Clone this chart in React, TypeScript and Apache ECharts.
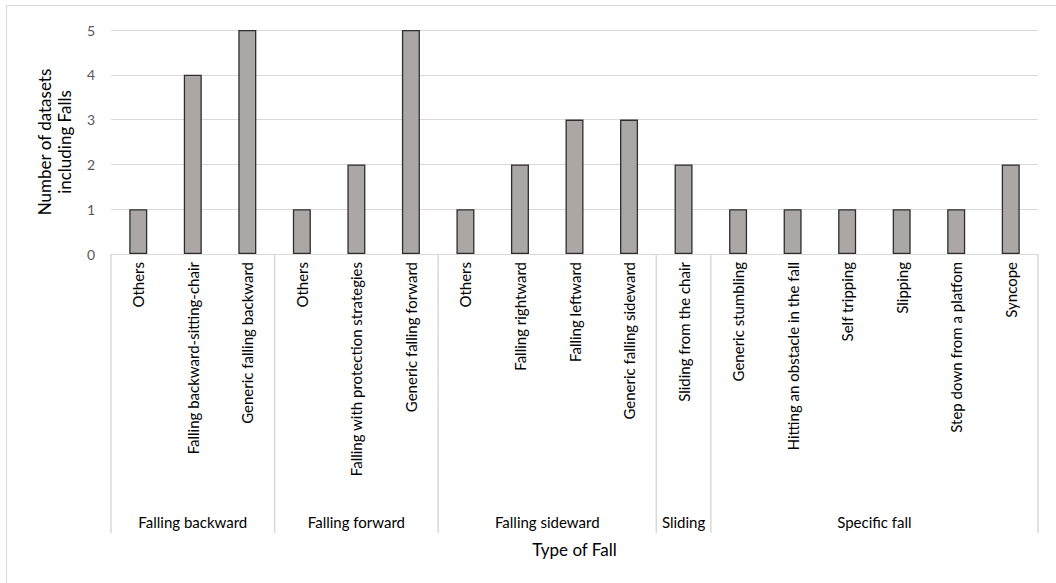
import React, { useEffect, useRef } from "react";
import * as echarts from "echarts";

const categories = [
  "Others", "Falling backward-sitting-chair", "Generic falling backward",
  "Others", "Falling with protection strategies", "Generic falling forward",
  "Others", "Falling rightward", "Falling leftward", "Generic falling sideward",
  "Sliding from the chair",
  "Generic stumbling", "Hitting an obstacle in the fall", "Self tripping", "Slipping", "Step down from a platfom", "Syncope",
];
const values = [1, 4, 5, 1, 2, 5, 1, 2, 3, 3, 2, 1, 1, 1, 1, 1, 2];
const groups = ["Falling backward", "Falling forward", "Falling sideward", "Sliding", "Specific fall"];
const groupSizes = [3, 3, 4, 1, 6];
const yTicks = [0, 1, 2, 3, 4, 5];

const FONT = "Lato";

export default function App() {
  const ref = useRef<HTMLDivElement>(null);
  useEffect(() => {
    document.body.style.margin = "0";
    const chart = echarts.init(ref.current!, null, { renderer: "svg" });
    const gridTop = 30, gridBottom = 254, gridLeft = 111, gridRight = 1038;
    chart.setOption({
      animation: false,
      backgroundColor: "#ffffff",
      grid: { left: gridLeft, right: 1056 - gridRight, top: gridTop, bottom: 583 - gridBottom, containLabel: false },
      xAxis: {
        type: "category",
        data: categories,
        axisLine: { show: true, lineStyle: { color: "#d9d9d9", width: 1 } },
        axisTick: { show: false },
        axisLabel: { rotate: 90, interval: 0, color: "#000000", fontFamily: FONT, fontSize: 15, margin: 8 },
      },
      yAxis: {
        type: "value",
        min: yTicks[0],
        max: yTicks[yTicks.length - 1],
        interval: 1,
        axisLine: { show: false },
        axisTick: { show: false },
        splitLine: { lineStyle: { color: "#d9d9d9", width: 1 } },
        axisLabel: { color: "#595959", fontFamily: FONT, fontSize: 14, margin: 16 },
        name: "Number of datasets\nincluding Falls",
        nameLocation: "middle",
        nameGap: 37,
        nameRotate: 90,
        nameTextStyle: { color: "#000000", fontFamily: FONT, fontSize: 17, lineHeight: 20 },
      },
      series: [{
        type: "bar",
        data: values,
        barWidth: 18,
        itemStyle: { color: "#aba7a7", borderColor: "#2e2e2e", borderWidth: 1.3 },
      }],
    });

    const x0 = chart.convertToPixel({ xAxisIndex: 0 }, 0) as number;
    const x1 = chart.convertToPixel({ xAxisIndex: 0 }, 1) as number;
    const band = x1 - x0;
    const start = x0 - band / 2;
    const y0 = chart.convertToPixel({ yAxisIndex: 0 }, 0) as number;
    const sepBottom = 533;
    const elements: any[] = [];
    elements.push({
      type: "rect", shape: { x: 6.5, y: 5.5, width: 1100, height: 700 },
      style: { fill: "none", stroke: "#d9d9d9", lineWidth: 1 }, silent: true,
    });
    let idx = 0;
    elements.push({ type: "line", shape: { x1: start, y1: y0, x2: start, y2: sepBottom }, style: { stroke: "#d9d9d9", lineWidth: 1.5 } });
    groups.forEach((g, gi) => {
      const a = start + idx * band;
      idx += groupSizes[gi];
      const b = start + idx * band;
      elements.push({ type: "line", shape: { x1: b, y1: y0, x2: b, y2: sepBottom }, style: { stroke: "#d9d9d9", lineWidth: 1.5 } });
      elements.push({
        type: "text", x: (a + b) / 2, y: 522,
        style: { text: g, fill: "#000000", font: `15px "${FONT}"`, align: "center", verticalAlign: "middle" },
      });
    });
    elements.push({
      type: "text", x: (start + start + categories.length * band) / 2, y: 549,
      style: { text: "Type of Fall", fill: "#000000", font: `17px "${FONT}"`, align: "center", verticalAlign: "middle" },
    });
    chart.setOption({ graphic: elements });
    return () => chart.dispose();
  }, []);
  return <div ref={ref} style={{ width: 1056, height: 583 }} />;
}
